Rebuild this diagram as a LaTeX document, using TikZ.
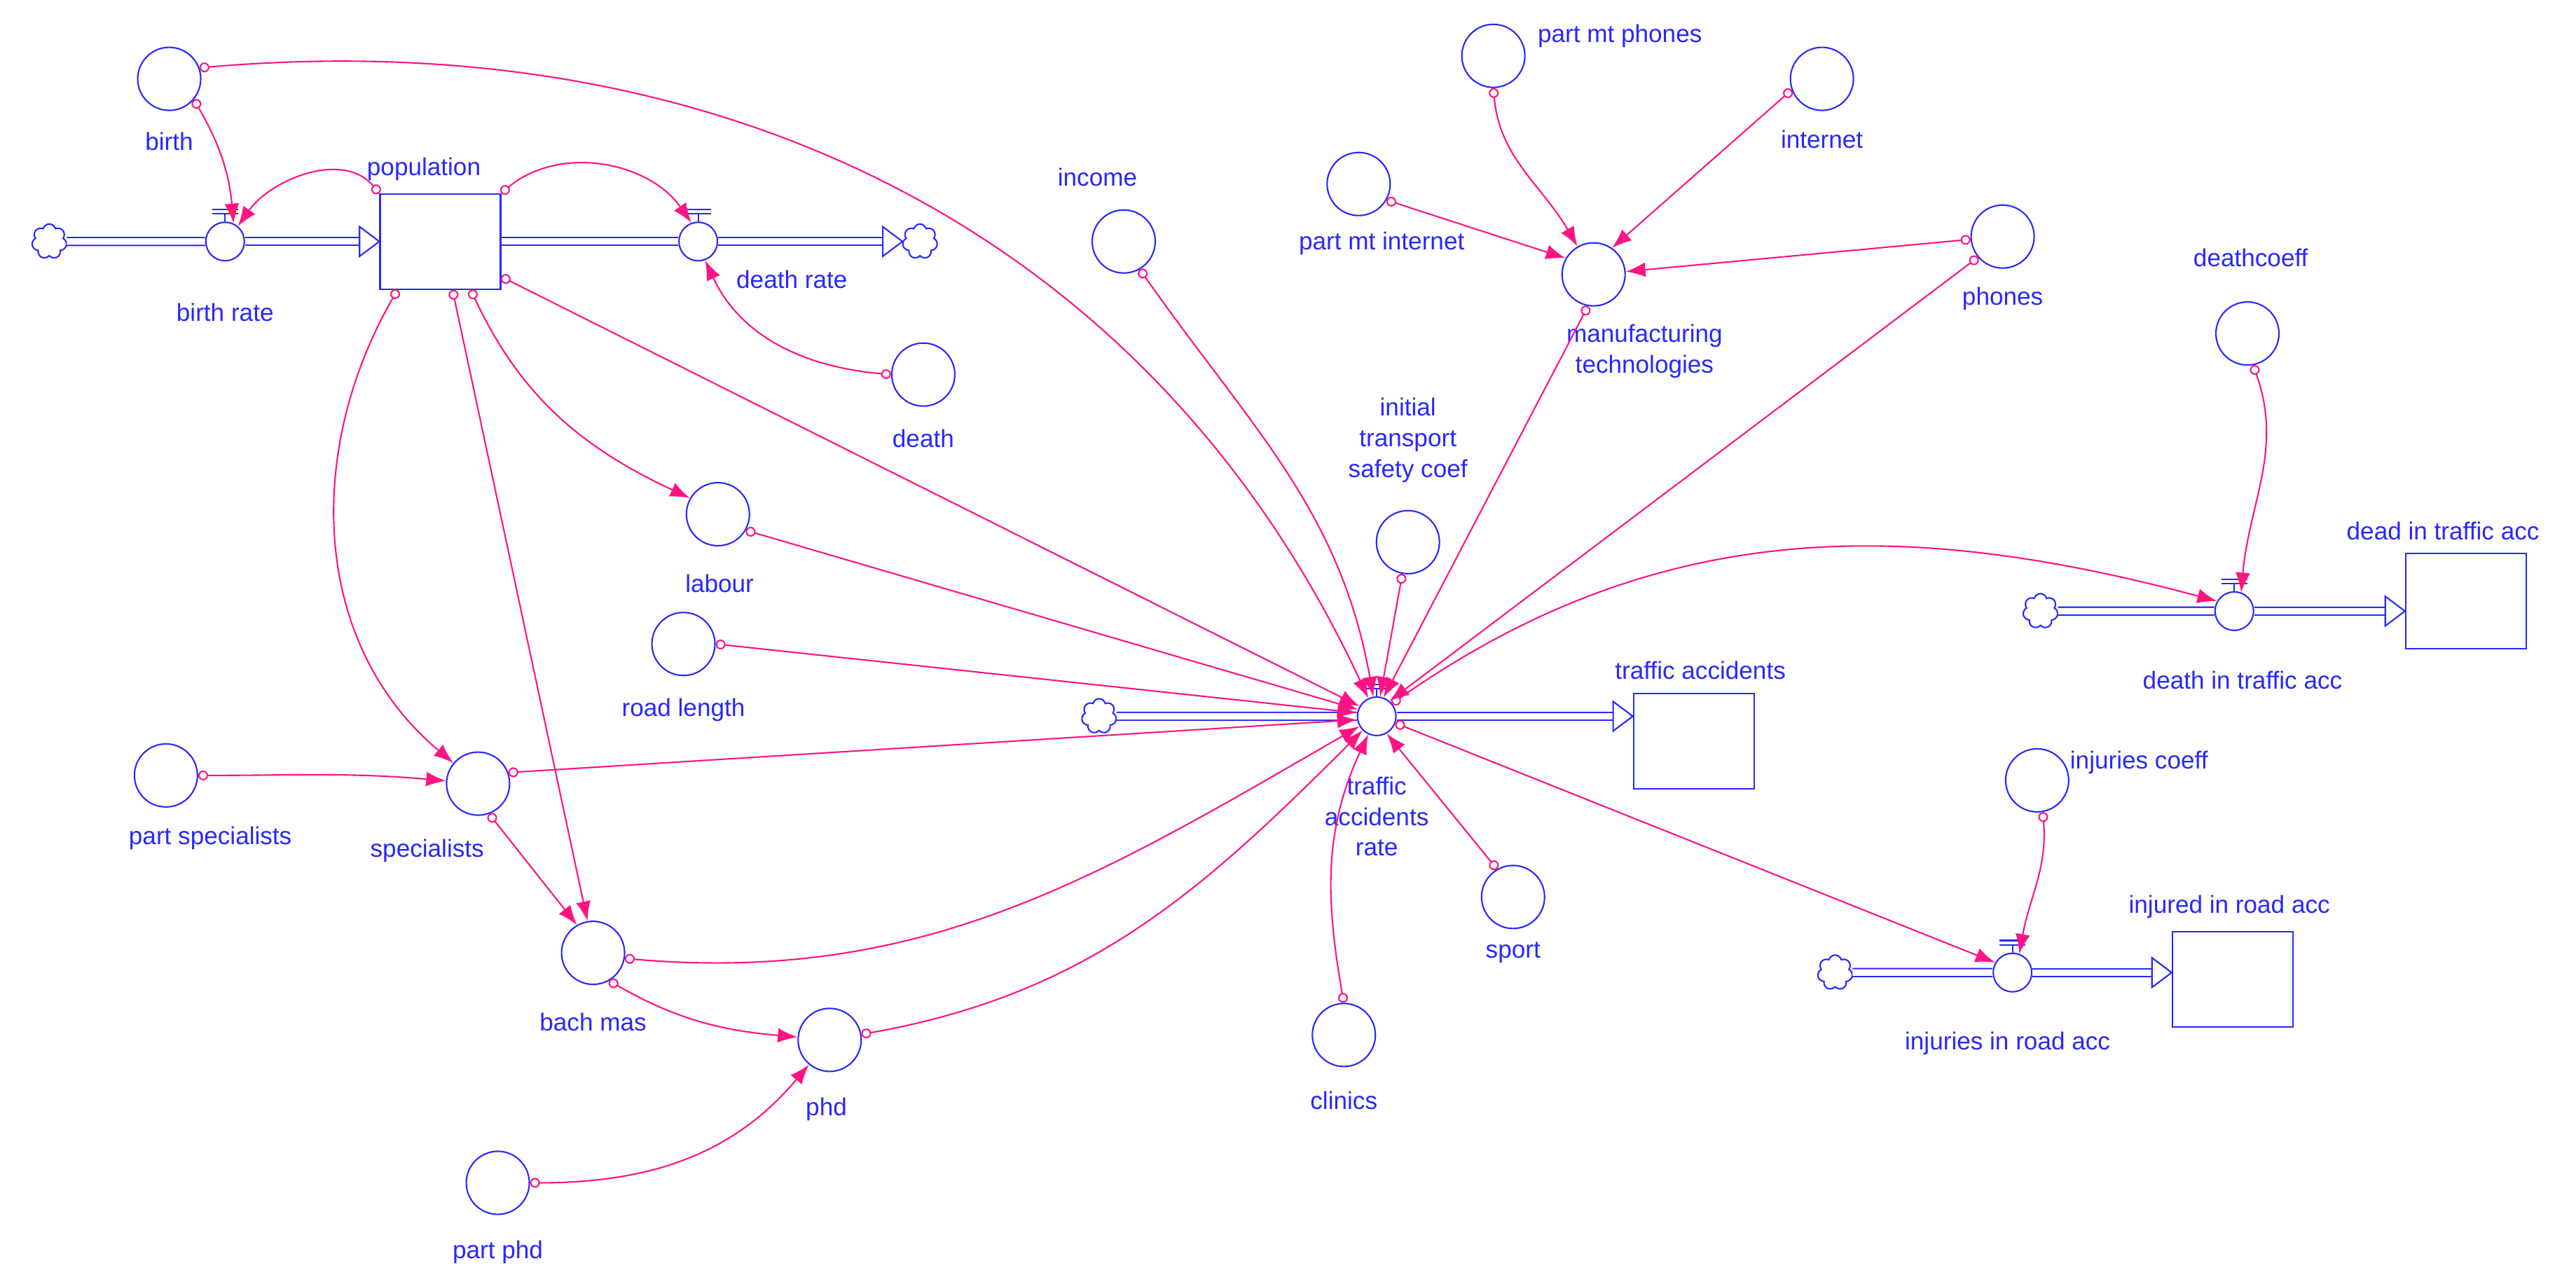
\documentclass[tikz,border=0pt]{standalone}
\usepackage{fontspec}
\setmainfont{Liberation Sans}
\usetikzlibrary{arrows.meta,shapes.symbols,calc}
\definecolor{vb}{RGB}{40,40,255}
\definecolor{vp}{RGB}{255,20,130}
\begin{document}
\begin{tikzpicture}[x=0.02345cm,y=-0.02345cm,
  every node/.style={font=\fontsize{10}{12.5}\selectfont,text=vb},
  aux/.style={circle,draw=vb,line width=0.6pt,minimum size=0.9cm,inner sep=0pt},
  valve/.style={circle,draw=vb,line width=0.6pt,minimum size=0.55cm,inner sep=0pt},
  stock/.style={rectangle,draw=vb,line width=0.6pt,minimum width=1.72cm,minimum height=1.36cm,inner sep=0pt},
  cl/.style={cloud,cloud puffs=7,draw=vb,line width=0.6pt,minimum width=0.5cm,minimum height=0.5cm,inner sep=0pt,aspect=1},
  lbl/.style={align=center,inner sep=1pt},
  link/.style={draw=vp,line width=0.6pt,{Circle[open,length=4pt,width=4pt]}-{Latex[length=8pt,width=6pt]}},
  pipe/.style={draw=vb,line width=0.6pt,double=white,double distance=2.6pt},
  pipeA/.style={pipe,shorten >=0.28cm},
]
\useasboundingbox (0,0) rectangle (1568,780);
% ---- auxiliaries
\node[aux] (birth) at (103,48) {}; \node[lbl] (lbirth) at (103,86) {birth};
\node[aux] (death) at (562,228) {}; \node[lbl] (ldeath) at (562,267) {death};
\node[aux] (labour) at (437,313) {}; \node[lbl] (llabour) at (438,355) {labour};
\node[aux] (road) at (416,392) {}; \node[lbl] (lroad) at (416,432) {road length};
\node[aux] (income) at (684,147) {}; \node[lbl] (lincome) at (668,108) {income};
\node[aux] (pmp) at (909,34) {}; \node[lbl] (lpmp) at (986,22) {part mt phones};
\node[aux] (internet) at (1109,48) {}; \node[lbl] (linternet) at (1109,85) {internet};
\node[aux] (pmi) at (827,112) {}; \node[lbl] (lpmi) at (841,148) {part mt internet};
\node[aux] (mt) at (970,167) {}; \node[lbl] (lmt) at (1001,214) {manufacturing\\technologies};
\node[aux] (phones) at (1219,144) {}; \node[lbl] (lphones) at (1219,182) {phones};
\node[aux] (dcoef) at (1368,203) {}; \node[lbl] (ldcoef) at (1370,157) {deathcoeff};
\node[aux] (init) at (857,330) {}; \node[lbl] (linit) at (857,268) {initial\\transport\\safety coef};
\node[aux] (icoef) at (1240,475) {}; \node[lbl] (licoef) at (1302,464) {injuries coeff};
\node[aux] (sport) at (921,546) {}; \node[lbl] (lsport) at (921,580) {sport};
\node[aux] (clinics) at (818,630) {}; \node[lbl] (lclinics) at (818,670) {clinics};
\node[aux] (pspec) at (101,472) {}; \node[lbl] (lpspec) at (128,510) {part specialists};
\node[aux] (spec) at (291,477) {}; \node[lbl] (lspec) at (260,518) {specialists};
\node[aux] (bach) at (361,580) {}; \node[lbl] (lbach) at (361,622) {bach mas};
\node[aux] (phd) at (505,633) {}; \node[lbl] (lphd) at (503,675) {phd};
\node[aux] (pphd) at (303,720) {}; \node[lbl] (lpphd) at (303,762) {part phd};
% ---- stocks
\node[stock] (pop) at (268,147) {}; \node[lbl] (lpop) at (258,103) {population};
\node[stock] (ta) at (1031,451) {}; \node[lbl] (lta) at (1035,408) {traffic accidents};
\node[stock] (dead) at (1501,366) {}; \node[lbl] (ldead) at (1487,323) {dead in traffic acc};
\node[stock] (inj) at (1359,596) {}; \node[lbl] (linj) at (1357,552) {injured in road acc};
% ---- valves
\node[valve] (br) at (137,147) {}; \node[lbl] (lbr) at (137,190) {birth rate};
\node[valve] (dr) at (425,147) {}; \node[lbl] (ldr) at (482,170) {death rate};
\node[valve] (tar) at (838,436) {}; \node[lbl] (ltar) at (838,497) {traffic\\accidents\\rate};
\node[valve] (dtv) at (1360,372) {}; \node[lbl] (ldtv) at (1365,414) {death in traffic acc};
\node[valve] (irv) at (1225,592) {}; \node[lbl] (lirv) at (1222,635) {injuries in road acc};
% ---- clouds
\node[cl] (c1) at (30,147) {};
\node[cl] (c2) at (560,147) {};
\node[cl] (c3) at (669,436) {};
\node[cl] (c4) at (1242,372) {};
\node[cl] (c5) at (1117,592) {};
\foreach \v in {br,dr,tar,dtv,irv}{
  \draw[vb,line width=0.6pt] (\v.north) -- ++(0,-5);
  \draw[vb,line width=0.6pt,double=white,double distance=1.2pt] ($(\v.north)+(-8,-6)$) -- ++(16,0);
}
% ---- flows
\coordinate (e1) at (br -| pop.west);
\coordinate (e2) at (dr -| c2.west);
\coordinate (e3) at (tar -| ta.west);
\coordinate (e4) at (dtv -| dead.west);
\coordinate (e5) at (irv -| inj.west);
\draw[pipe] (c1) -- (br);
\draw[pipeA] (br) -- (e1);
\draw[pipe] (br -| pop.east) -- (dr);
\draw[pipeA] (dr) -- (e2);
\draw[pipe] (c3) -- (tar);
\draw[pipeA] (tar) -- (e3);
\draw[pipe] (c4) -- (dtv);
\draw[pipeA] (dtv) -- (e4);
\draw[pipe] (c5) -- (irv);
\draw[pipeA] (irv) -- (e5);
\foreach \t in {e1,e2,e3,e4,e5}{
  \draw[vb,line width=0.6pt,fill=white] ($(\t)+(-12,-9)$) -- (\t) -- ($(\t)+(-12,9)$) -- cycle;
}
% ---- links
\draw[link] (birth.-40) to[out=-60,in=95] (br.65);
\draw[link] (birth.20) to[out=5,in=115] (tar.115);
\draw[link] (pop.north west) to[out=130,in=55] (br.50);
\draw[link] (pop.north east) to[out=40,in=125] (dr.110);
\draw[link] (death.west) to[out=175,in=-65] (dr.-70);
\draw[link] ($(pop.south east)+(0,-8)$) -- (tar.150);
\draw[link] ($(pop.south west)!0.75!(pop.south east)$) to[out=-65,in=155] (labour.150);
\draw[link] ($(pop.south west)!0.15!(pop.south east)$) to[out=-120,in=140] (spec.140);
\draw[link] ($(pop.south west)!0.6!(pop.south east)$) -- (bach.100);
\draw[link] (labour.-30) -- (tar.160);
\draw[link] (road.east) -- (tar.170);
\draw[link] (income.-60) to[out=-55,in=100] (tar.100);
\draw[link] (pmp.-90) to[out=-85,in=120] (mt.120);
\draw[link] (internet.-160) -- (mt.55);
\draw[link] (pmi.-30) -- (mt.150);
\draw[link] (phones.-175) -- (mt.5);
\draw[link] (phones.-140) -- (tar.50);
\draw[link] (mt.-100) -- (tar.70);
\draw[link] (init.-100) -- (tar.80);
\draw[link] (tar.40) to[out=35,in=165] (dtv.150);
\draw[link] (dcoef.-80) to[out=-70,in=85] (dtv.70);
\draw[link] (tar.-20) -- (irv.150);
\draw[link] (icoef.-80) to[out=-85,in=80] (irv.70);
\draw[link] (sport.120) -- (tar.-60);
\draw[link] (clinics.north) to[out=100,in=-115] (tar.-115);
\draw[link] (pspec.east) to[out=0,in=175] (spec.175);
\draw[link] (spec.20) -- (tar.-170);
\draw[link] (spec.-70) -- (bach.120);
\draw[link] (bach.-10) to[out=-5,in=-150] (tar.-150);
\draw[link] (bach.-60) to[out=-30,in=175] (phd.175);
\draw[link] (phd.10) to[out=10,in=-135] (tar.-135);
\draw[link] (pphd.east) to[out=0,in=-130] (phd.-130);
\end{tikzpicture}
\end{document}
